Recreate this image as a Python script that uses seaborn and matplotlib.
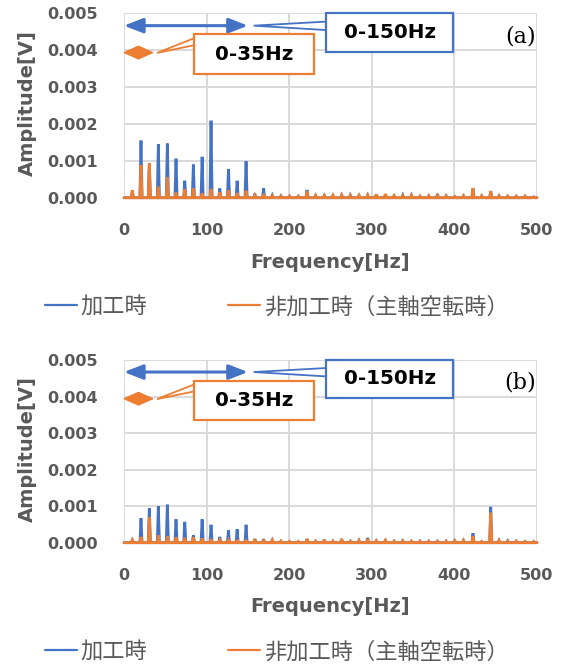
import numpy as np
import pandas as pd
import matplotlib
matplotlib.use("Agg")
import matplotlib.pyplot as plt
from matplotlib.patches import Rectangle, Polygon
from matplotlib.lines import Line2D
from matplotlib.ticker import FormatStrFormatter
import seaborn as sns

# Harmonic peak frequencies of the spectrum [Hz]
peak_freq = [10.1, 20.6, 30.7, 41.6, 52.5, 63.0, 73.6, 84.0, 94.6, 105.4,
             116.0, 126.5, 137.0, 147.8, 158.4, 169.0, 179.6, 190.0, 200.5, 211.0,
             221.6, 232.0, 242.5, 253.0, 263.5, 274.0, 284.5, 295.0, 305.5, 316.5,
             327.0, 337.5, 348.0, 358.5, 369.0, 379.5, 390.0, 400.5, 411.0, 422.5,
             433.0, 444.0, 454.0, 464.5, 475.0, 485.5, 496.0]

# Peak amplitudes [mV], panel (a)
machining_a = [0.18, 1.55, 0.93, 1.45, 1.47, 1.06, 0.46, 0.90, 1.11, 2.09,
               0.25, 0.78, 0.46, 0.99, 0.11, 0.26, 0.07, 0.05, 0.04, 0.04,
               0.21, 0.06, 0.06, 0.06, 0.07, 0.07, 0.06, 0.07, 0.08, 0.09,
               0.05, 0.07, 0.07, 0.04, 0.05, 0.10, 0.05, 0.03, 0.05, 0.25,
               0.05, 0.18, 0.05, 0.04, 0.04, 0.04, 0.02]
idle_a = [0.21, 0.89, 0.93, 0.30, 0.55, 0.14, 0.23, 0.25, 0.12, 0.24,
          0.15, 0.20, 0.13, 0.19, 0.07, 0.10, 0.05, 0.04, 0.04, 0.04,
          0.18, 0.06, 0.06, 0.06, 0.07, 0.06, 0.06, 0.07, 0.09, 0.10,
          0.05, 0.05, 0.06, 0.04, 0.05, 0.06, 0.05, 0.03, 0.05, 0.25,
          0.05, 0.18, 0.05, 0.04, 0.04, 0.04, 0.02]

# Peak amplitudes [mV], panel (b)
machining_b = [0.07, 0.67, 0.94, 1.00, 1.04, 0.64, 0.57, 0.20, 0.64, 0.49,
               0.16, 0.34, 0.37, 0.49, 0.10, 0.10, 0.07, 0.04, 0.03, 0.03,
               0.10, 0.04, 0.08, 0.04, 0.10, 0.04, 0.06, 0.13, 0.05, 0.06,
               0.04, 0.05, 0.04, 0.04, 0.04, 0.04, 0.04, 0.05, 0.06, 0.26,
               0.03, 0.98, 0.06, 0.05, 0.04, 0.03, 0.03]
idle_b = [0.07, 0.16, 0.70, 0.20, 0.18, 0.15, 0.13, 0.15, 0.12, 0.10,
          0.07, 0.07, 0.08, 0.08, 0.10, 0.08, 0.07, 0.04, 0.03, 0.03,
          0.10, 0.04, 0.08, 0.04, 0.10, 0.04, 0.06, 0.10, 0.05, 0.06,
          0.04, 0.05, 0.04, 0.04, 0.04, 0.04, 0.04, 0.05, 0.06, 0.18,
          0.03, 0.82, 0.06, 0.04, 0.04, 0.03, 0.03]

series_names = ["加工時", "非加工時（主軸空転時）"]
series_colors = ["#4472C4", "#ED7D31"]
x_ticks = [0, 100, 200, 300, 400, 500]
y_ticks = [0.000, 0.001, 0.002, 0.003, 0.004, 0.005]
panel_tags = ["(a)", "(b)"]
band_labels = ["0-150Hz", "0-35Hz"]
band_ranges = [(0, 150), (0, 35)]

GREY = "#595959"
GRID = "#D9D9D9"

sns.set_theme(style="white")
plt.rcParams["font.family"] = ["DejaVu Sans", "Noto Sans CJK JP"]


def spectrum_frame(machining, idle):
    rows = []
    for name, amps in zip(series_names, (machining, idle)):
        rows.append((name, 0.0, 0.0))
        for fc, v in zip(peak_freq, amps):
            rows.append((name, fc - 1.3, 0.0))
            rows.append((name, fc, v * 1e-3))
            rows.append((name, fc + 1.3, 0.0))
        rows.append((name, 500.0, 0.0))
    return pd.DataFrame(rows, columns=["series", "freq", "amp"])


def band_callouts(ax):
    blue, orange = series_colors
    # wide band: double arrow, pointer wedge and label box
    y_w = 0.00467
    ax.annotate("", xy=(band_ranges[0][0], y_w), xytext=(band_ranges[0][1], y_w),
                arrowprops=dict(arrowstyle="<|-|>,head_length=1.15,head_width=0.45",
                                mutation_scale=10, color=blue, lw=2.2,
                                shrinkA=0, shrinkB=0), zorder=6)
    ax.add_patch(Polygon([(157, 0.00467), (245, 0.00478), (245, 0.00455)],
                         closed=True, fc="white", ec=blue, lw=1.3, zorder=6,
                         clip_on=False))
    ax.add_patch(Rectangle((244.6, 0.00396), 154.1, 0.00104, fc="white", ec=blue,
                           lw=1.6, zorder=7, clip_on=False))
    ax.text(321.6, 0.00448, band_labels[0], ha="center", va="center",
            fontsize=14.3, fontweight="bold", color="black", zorder=8)
    # narrow band: the two arrow heads meet and form a diamond
    y_n = 0.00394
    lo, hi = band_ranges[1]
    mid = (lo + hi) / 2
    hh = 0.000175
    for tip in (lo, hi):
        ax.add_patch(Polygon([(tip, y_n), (mid, y_n + hh), (mid, y_n - hh)],
                             closed=True, fc=orange, ec=orange, lw=0.8,
                             zorder=6, clip_on=False))
    ax.add_patch(Polygon([(40, 0.00393), (85, 0.00433), (85, 0.00414)],
                         closed=True, fc="white", ec=orange, lw=1.3, zorder=6))
    ax.add_patch(Rectangle((84.7, 0.00337), 145.3, 0.00106, fc="white", ec=orange,
                           lw=1.6, zorder=7))
    ax.text(157.4, 0.00390, band_labels[1], ha="center", va="center",
            fontsize=14.3, fontweight="bold", color="black", zorder=8)


fig = plt.figure(figsize=(5.63, 6.68), dpi=100)
axes = [fig.add_axes([0.2202, 0.7040, 0.7336, 0.2758]),
        fig.add_axes([0.2202, 0.1876, 0.7336, 0.2735])]
data_sets = [(machining_a, idle_a), (machining_b, idle_b)]
legend_y = [0.5409, 0.0244]

for ax, (mach, idle), tag, ly in zip(axes, data_sets, panel_tags, legend_y):
    df = spectrum_frame(mach, idle)
    sns.lineplot(data=df, x="freq", y="amp", hue="series", hue_order=series_names,
                 palette=series_colors, estimator=None, sort=False, lw=2.0,
                 legend=False, ax=ax)
    for ln in ax.lines:
        ln.set_clip_on(False)
        ln.set_solid_joinstyle("miter")
    ax.set_xlim(0, 500)
    ax.set_ylim(0, 0.005)
    ax.set_xticks(x_ticks)
    ax.set_yticks(y_ticks)
    ax.yaxis.set_major_formatter(FormatStrFormatter("%.3f"))
    ax.grid(True, color=GRID, lw=1.4)
    ax.set_axisbelow(True)
    for sp in ax.spines.values():
        sp.set_visible(False)
    ax.tick_params(axis="both", length=0, labelsize=11.5, labelcolor=GREY)
    ax.tick_params(axis="y", pad=19)
    ax.tick_params(axis="x", pad=18)
    for lab in ax.get_xticklabels() + ax.get_yticklabels():
        lab.set_fontweight("bold")
    ax.set_xlabel("Frequency[Hz]", fontsize=14, fontweight="bold", color=GREY,
                  va="center")
    ax.xaxis.set_label_coords(0.5, -0.349)
    ax.set_ylabel("Amplitude[V]", fontsize=14, fontweight="bold", color=GREY,
                  va="center")
    ax.yaxis.set_label_coords(-0.235, 0.515)
    ax.text(0.998, 0.875, tag, transform=ax.transAxes, ha="right", va="center",
            fontsize=16, family="DejaVu Serif", color="black", zorder=8)
    band_callouts(ax)

    handles = [Line2D([], [], color=c, lw=1.6) for c in series_colors]
    fig.legend(handles, series_names, loc="center left",
               bbox_to_anchor=(45 / 563, ly), ncol=2, frameon=False,
               borderpad=0, borderaxespad=0, handlelength=1.44,
               handletextpad=0.15, columnspacing=3.66,
               prop={"family": "Noto Sans CJK JP", "size": 16},
               labelcolor=GREY)

fig.savefig("out.png", dpi=100)
